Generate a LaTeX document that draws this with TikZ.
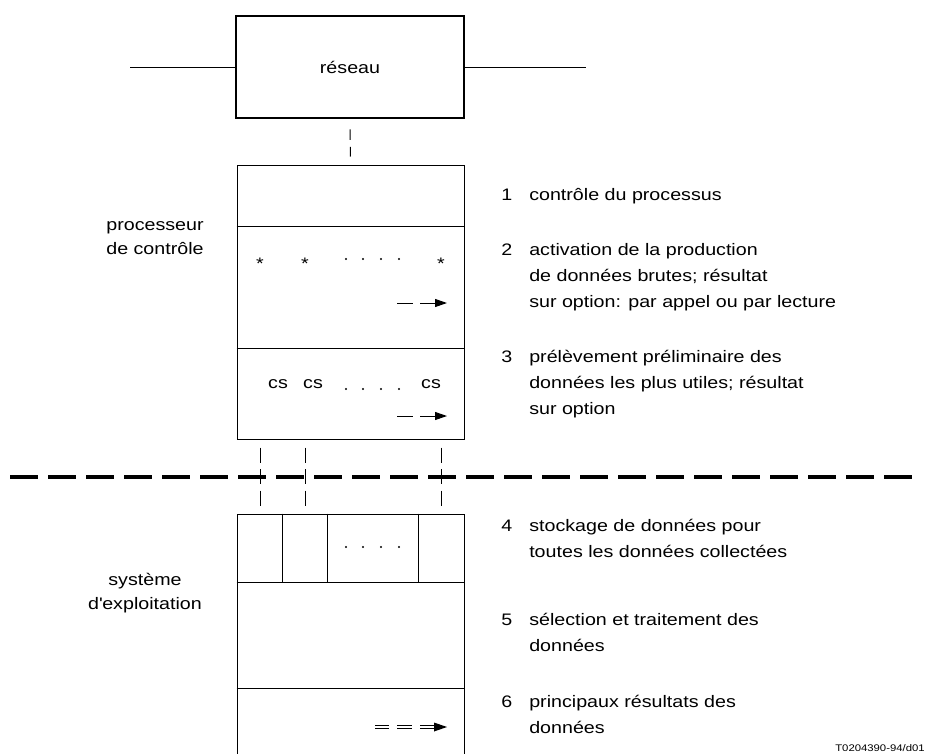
\documentclass[tikz,border=0pt]{standalone}
\usepackage{fontspec}
\setmainfont[FakeStretch=1.18]{Liberation Sans}
\usetikzlibrary{arrows.meta}

\tikzset{
  netbox/.style={draw,line width=1.9pt,minimum width=171pt,minimum height=76.5pt,inner sep=0pt,font=\fontsize{12.5pt}{19.5pt}\selectfont},
  sysbox/.style={draw,line width=0.75pt,minimum width=170.25pt,inner sep=0pt},
  thinline/.style={line width=0.75pt},
  netdash/.style={line width=0.75pt,dash pattern=on 7.9pt off 5.25pt},
  linkdash/.style={line width=0.75pt,dash pattern=on 11.25pt off 4.9pt},
  cutline/.style={line width=2.6pt,dash pattern=on 21pt off 7.5pt},
  itemtext/.style={anchor=base west,align=left,inner sep=0pt,font=\fontsize{12.5pt}{19.5pt}\selectfont},
  sidetext/.style={anchor=base,align=center,inner sep=0pt,font=\fontsize{12.5pt}{18pt}\selectfont},
  celltext/.style={anchor=base,inner sep=0pt,font=\fontsize{12.5pt}{14pt}\selectfont}
}

\begin{document}
\begin{tikzpicture}[x=0.75pt,y=-0.75pt]
\useasboundingbox (0,0) rectangle (927,753);
\clip (0,0) rectangle (927,753);

% network
\node[netbox] (reseau) at (350,67) {réseau};
\coordinate (lineL) at (130,67);
\coordinate (lineR) at (586,67);
\draw[thinline] (lineL) -- (reseau.west);
\draw[thinline] (reseau.east) -- (lineR);

% control processor
\node[sysbox,minimum height=205.5pt] (proc) at (350.5,302) {};
\draw[thinline] (proc.west |- 0,226) -- (proc.east |- 0,226);
\draw[thinline] (proc.west |- 0,348) -- (proc.east |- 0,348);
\draw[netdash,shorten <=7.5pt,shorten >=6pt] (reseau.south) -- (proc.north);

\node[celltext] (st1) at (260,269) {*};
\node[celltext] (st2) at (305,269) {*};
\node[celltext] (st3) at (441,269) {*};
\foreach \x in {346,363,381,399} \fill (\x,259) circle (0.8pt);
\draw[thinline] (397,303) -- (413,303);
\draw[thinline,-{Triangle[length=9pt,width=6pt]}] (420,303) -- (447,303);

\node[celltext] (cs1) at (278,388) {cs};
\node[celltext] (cs2) at (313,388) {cs};
\node[celltext] (cs3) at (431,388) {cs};
\foreach \x in {346,363,381,399} \fill (\x,389) circle (0.8pt);
\draw[thinline] (397,416) -- (413,416);
\draw[thinline,-{Triangle[length=9pt,width=6pt]}] (420,416) -- (447,416);

% operating system
\node[sysbox,minimum height=189pt] (os) at (350.5,640) {};
\draw[thinline] (os.west |- 0,582) -- (os.east |- 0,582);
\draw[thinline] (os.west |- 0,688) -- (os.east |- 0,688);
\foreach \x in {282,327,418} \draw[thinline] (\x,0 |- os.north) -- (\x,582);
\foreach \x in {346,363,381,399} \fill (\x,547) circle (0.8pt);
\draw[thinline,double,double distance=1.8pt] (375,727) -- (389,727);
\draw[thinline,double,double distance=1.8pt] (397,727) -- (412,727);
\draw[thinline,double,double distance=1.8pt] (420,727) -- (436,727);
\fill (434,722.5) -- (447,727) -- (434,731.5) -- cycle;

\draw[linkdash,shorten <=6pt,shorten >=5.25pt] (st1 |- proc.south) -- (st1 |- os.north);
\draw[linkdash,shorten <=6pt,shorten >=5.25pt] (st2 |- proc.south) -- (st2 |- os.north);
\draw[linkdash,shorten <=6pt,shorten >=5.25pt] (st3 |- proc.south) -- (st3 |- os.north);

% boundary
\coordinate (cutL) at (10,477);
\coordinate (cutR) at (912,477);
\draw[cutline] (cutL) -- (cutR);

% labels (base = last line)
\node[sidetext] (proclabel) at (155,254) {processeur\\de contrôle};
\node[sidetext] (oslabel) at (145,609) {système\\d\textquotesingle exploitation};

\node[itemtext] (n1) at (501,200) {1};
\node[itemtext] (t1) at (529,200) {contrôle du processus};
\node[itemtext] (n2) at (501,255) {2};
\node[itemtext] (t2) at (529,307) {activation de la production\\de données brutes; résultat\\sur option: par appel ou par lecture};
\node[itemtext] (n3) at (501,362) {3};
\node[itemtext] (t3) at (529,414) {prélèvement préliminaire des\\données les plus utiles; résultat\\sur option};
\node[itemtext] (n4) at (501,531) {4};
\node[itemtext] (t4) at (529,557) {stockage de données pour\\toutes les données collectées};
\node[itemtext] (n5) at (501,625) {5};
\node[itemtext] (t5) at (529,651) {sélection et traitement des\\données};
\node[itemtext] (n6) at (501,707) {6};
\node[itemtext] (t6) at (529,733) {principaux résultats des\\données};

\node[anchor=base west,inner sep=0pt,font=\fontsize{7.2pt}{8pt}\selectfont] (figref) at (835,751) {T0204390-94/d01};
\end{tikzpicture}
\end{document}
